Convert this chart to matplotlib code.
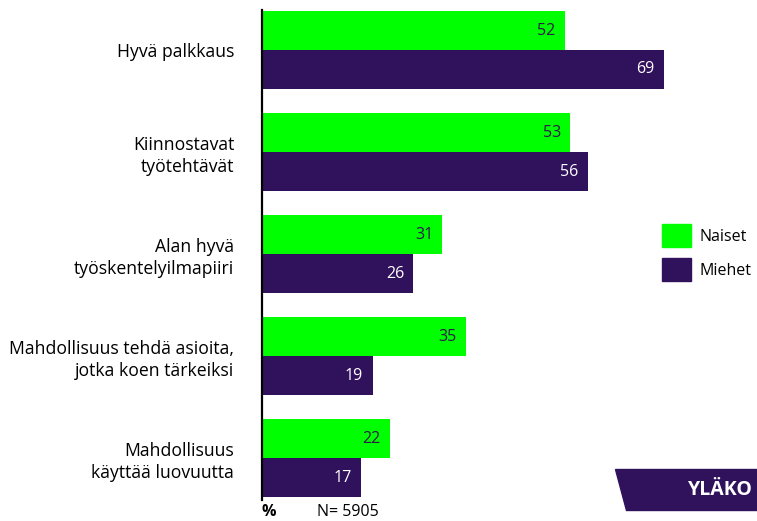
import matplotlib.pyplot as plt
from matplotlib.patches import Patch, Polygon

categories = ["Hyvä palkkaus", "Kiinnostavat\ntyötehtävät", "Alan hyvä\ntyöskentelyilmapiiri",
              "Mahdollisuus tehdä asioita,\njotka koen tärkeiksi", "Mahdollisuus\nkäyttää luovuutta"]
naiset = [52, 53, 31, 35, 22]
miehet = [69, 56, 26, 19, 17]
series_names = ["Naiset", "Miehet"]

GREEN = "#00ff00"
PURPLE = "#30115c"
plt.rcParams["font.family"] = ["Open Sans", "DejaVu Sans"]

W, H = 757, 521
fig = plt.figure(figsize=(W / 100, H / 100), dpi=100)
ax = fig.add_axes([262 / W, 1 - 500 / H, (W - 262) / W, 490 / H])

h = 0.382
y = list(range(len(categories)))
b1 = ax.barh([i - h / 2 for i in y], naiset, height=h, color=GREEN)
b2 = ax.barh([i + h / 2 for i in y], miehet, height=h, color=PURPLE)

for bars, vals, col in [(b1, naiset, "#2b1a4a"), (b2, miehet, "white")]:
    for bar, v in zip(bars, vals):
        ax.text(bar.get_width() - 1.6, bar.get_y() + bar.get_height() / 2, str(v),
                ha="right", va="center", fontsize=11.5, color=col)

ax.set_xlim(0, (W - 262) / 5.82)
ax.set_ylim(4.41, -0.392)
ax.set_yticks(y)
ax.set_yticklabels(categories, fontsize=12.7, ha="right", linespacing=1.3)
ax.tick_params(axis="y", length=0, pad=20)
ax.set_xticks([])
for s in ["top", "right", "bottom"]:
    ax.spines[s].set_visible(False)
ax.spines["left"].set_linewidth(1.6)
ax.spines["left"].set_color("black")
ax.patch.set_alpha(0)

handles = [Patch(color=GREEN), Patch(color=PURPLE)]
fig.legend(handles, series_names, loc="upper left", bbox_to_anchor=(648 / W, 1 - 210 / H),
           frameon=False, fontsize=11.5, handlelength=1.8, handleheight=1.8,
           labelspacing=0.7, handletextpad=0.5)

fig.text(262 / W, 1 - 512 / H, "%", fontsize=11.5, fontweight="bold", va="center")
fig.text(317 / W, 1 - 512 / H, "N= 5905", fontsize=11.5, va="center")

logo = Polygon([(615 / W, 1 - 469 / H), (1.01, 1 - 469 / H),
                (1.01, 1 - 510 / H), (626 / W, 1 - 510 / H)],
               closed=True, transform=fig.transFigure, color=PURPLE)
fig.add_artist(logo)
fig.text(688 / W, 1 - 490 / H, "YLÄKO", fontsize=14, fontweight="bold",
         color="white", va="center")

fig.savefig("out.png", dpi=100)
